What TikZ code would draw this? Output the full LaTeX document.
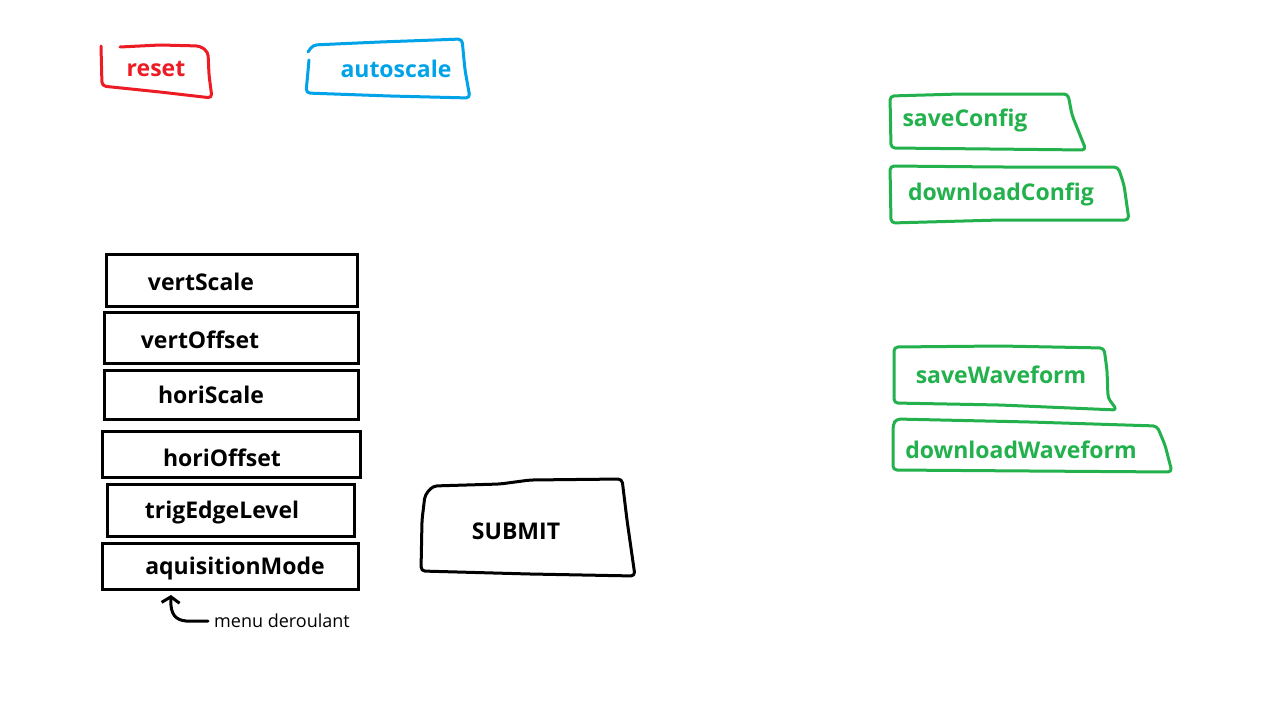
\documentclass[tikz,border=0pt]{standalone}
\usepackage{fontspec}
\setmainfont{Open Sans}
\usetikzlibrary{arrows.meta}
\definecolor{paintred}{RGB}{237,28,36}
\definecolor{paintblue}{RGB}{0,162,232}
\definecolor{paintgreen}{RGB}{34,177,76}

\begin{document}
\begin{tikzpicture}[x=1pt, y=-1pt,
	lbl/.style={font=\fontsize{23}{26}\selectfont\bfseries, inner sep=0pt, yshift=-2pt},
	field/.style={draw, line width=3pt},
	sketch/.style={line width=3pt, rounded corners=4pt, line join=round, line cap=round}]
	\useasboundingbox[fill=white] (0,0) rectangle (1280,720);

	% top buttons
	\draw[sketch, paintred] (120,47) -- (160,45) -- (200,46) -- (208,52) -- (209,75) -- (212,98) -- (160,92) -- (102,86) -- (101,46);
	\node[lbl, text=paintred] (reset) at (156,67) {reset};
	\draw[sketch, paintblue] (308,52) -- (313,45) -- (380,42) -- (462,39) -- (465,70) -- (470,98) -- (390,96) -- (306,93) -- (309,60);
	\node[lbl, text=paintblue] (autoscale) at (396,67) {autoscale};

	% config buttons
	\draw[sketch, paintgreen] (890,96) -- (960,94) -- (1068,94) -- (1072,115) -- (1086,150) -- (990,149) -- (891,148) -- cycle;
	\node[lbl, text=paintgreen] (saveConfig) at (965,118) {saveConfig};
	\draw[sketch, paintgreen] (890,166) -- (1000,167) -- (1118,167) -- (1124,185) -- (1129,220) -- (1000,220) -- (891,223) -- cycle;
	\node[lbl, text=paintgreen] (downloadConfig) at (1001,192) {downloadConfig};

	% waveform buttons
	\draw[sketch, paintgreen] (894,347) -- (1000,346) -- (1104,348) -- (1107,370) -- (1108,398) -- (1117,410) -- (1000,405) -- (894,403) -- cycle;
	\node[lbl, text=paintgreen] (saveWaveform) at (1001,373) {saveWaveform};
	\draw[sketch, paintgreen] (896,419) -- (1030,422) -- (1157,426) -- (1165,445) -- (1172,472) -- (1030,471) -- (893,470) -- (893,425) -- cycle;
	\node[lbl, text=paintgreen] (downloadWaveform) at (1021,448) {downloadWaveform};

	% fields
	\draw[field] (106,254) rectangle (357,306);
	\node[lbl] (vertScale) at (201,280) {vertScale};
	\draw[field] (104,312) rectangle (358,363);
	\node[lbl] (vertOffset) at (200,338) {vertOffset};
	\draw[field] (104,370) rectangle (358,419);
	\node[lbl] (horiScale) at (211,393) {horiScale};
	\draw[field] (102,431) rectangle (360,477);
	\node[lbl] (horiOffset) at (222,456) {horiOffset};
	\draw[field] (107,484) rectangle (354,536);
	\node[lbl] (trigEdgeLevel) at (222,511) {trigEdgeLevel};
	\draw[field] (102,543) rectangle (358,589);
	\node[lbl] (aquisitionMode) at (235,567) {aquisitionMode};

	% submit
	\draw[sketch] (421,571) -- (422,520) -- (425,495) -- (433,486) -- (500,484) -- (530,480) -- (622,479) -- (627,520) -- (635,576) -- (530,574) -- cycle;
	\node[lbl] (submit) at (516,529) {SUBMIT};

	% dropdown note
	\node[font=\fontsize{18}{20}\selectfont, inner sep=0pt, anchor=west] (menu) at (214,621) {menu deroulant};
	\coordinate (tip) at (171,595);
	\draw[line width=3pt, line cap=round, -{Straight Barb[length=6pt, width=18pt]}]
		(menu.west) ++(-6,0) -- ++(-22,0) .. controls (176,620) and (170,615) .. (tip);
\end{tikzpicture}
\end{document}
